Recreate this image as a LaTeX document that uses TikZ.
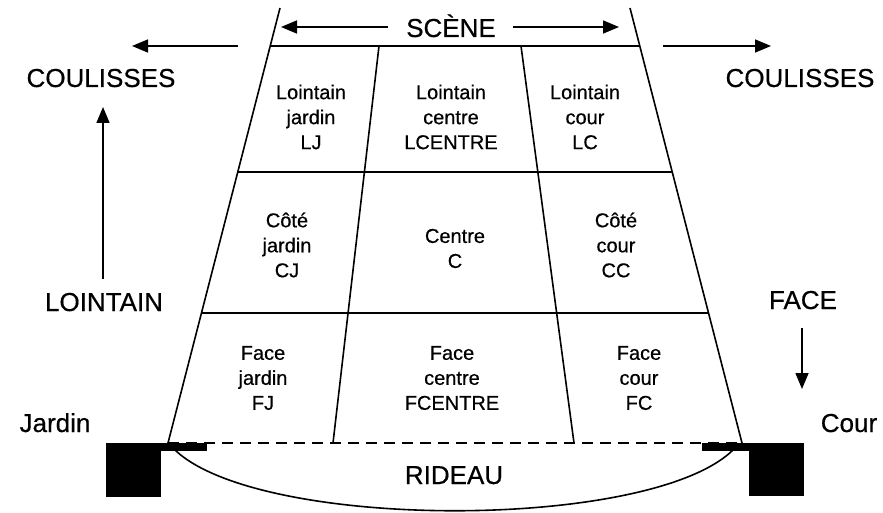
\documentclass[tikz,border=0pt]{standalone}
\usepackage{fontspec}
\setmainfont{Liberation Sans}
\newfontfamily\heavysans[FakeBold=0.5]{Liberation Sans}
\usetikzlibrary{arrows.meta,calc}

\begin{document}
\begin{tikzpicture}[x=1pt,y=-1pt,
  edge/.style={line width=1.6pt},
  arr/.style={line width=1.6pt,-{Triangle[length=16pt,width=13pt]}},
  cell/.style={align=center,font=\heavysans\fontsize{20}{25}\selectfont,inner sep=0pt},
  lbl/.style={font=\heavysans\fontsize{26}{30}\selectfont,inner sep=0pt,anchor=base},
  block/.style={fill=black,draw=none}]

\useasboundingbox (0,0) rectangle (883,513);

% outer edges of the stage
\coordinate (TL) at (280,8);
\coordinate (BL) at (168,443);
\coordinate (TR) at (630,8);
\coordinate (BR) at (742,443);
\draw[edge] (TL) -- (BL);
\draw[edge] (TR) -- (BR);

% horizontal rows
\coordinate (L1) at ($(TL)!0.08736!(BL)$);
\coordinate (R1) at ($(TR)!0.08736!(BR)$);
\coordinate (L2) at ($(TL)!0.37701!(BL)$);
\coordinate (R2) at ($(TR)!0.37701!(BR)$);
\coordinate (L3) at ($(TL)!0.70115!(BL)$);
\coordinate (R3) at ($(TR)!0.70115!(BR)$);
\draw[edge] (L1) -- (R1);
\draw[edge] (L2) -- (R2);
\draw[edge] (L3) -- (R3);
\draw[edge,dash pattern=on 11pt off 7pt] (BL) -- (BR);

% column dividers
\coordinate (D1t) at (379,46);
\coordinate (D1b) at (333,443);
\coordinate (D2t) at (521,46);
\coordinate (D2b) at (574,443);
\draw[edge] (D1t) -- (D1b);
\draw[edge] (D2t) -- (D2b);

% curtain
\coordinate (cL) at (175,450);
\coordinate (cR) at (733,450);
\draw[edge] (cL) .. controls (260,531) and (650,531) .. (cR);

% proscenium blocks
\fill[block] (106,443) rectangle (161,497);
\fill[block] (106,443) rectangle (207,451);
\fill[block] (749,443) rectangle (804,496);
\fill[block] (702,443) rectangle (804,451);

% areas of the stage
\node[cell] (lj) at (311,117) {Lointain\\jardin\\LJ};
\node[cell] (lcentre) at (451,117) {Lointain\\centre\\LCENTRE};
\node[cell] (lc) at (585,117) {Lointain\\cour\\LC};
\node[cell] (cj) at (287,245) {Côté\\jardin\\CJ};
\node[cell] (c) at (455,248.5) {Centre\\C};
\node[cell] (cc) at (616,245) {Côté\\cour\\CC};
\node[cell] (fj) at (263,378) {Face\\jardin\\FJ};
\node[cell] (fcentre) at (452,378) {Face\\centre\\FCENTRE};
\node[cell] (fc) at (639,378) {Face\\cour\\FC};

% surrounding labels
\node[lbl] (scene) at (451,37) {SCÈNE};
\node[lbl] (coulG) at (101,87) {COULISSES};
\node[lbl] (coulD) at (800,87) {COULISSES};
\node[lbl] (lointain) at (104,311) {LOINTAIN};
\node[lbl] (face) at (803,309) {FACE};
\node[lbl] (jardin) at (55,432) {Jardin};
\node[lbl] (cour) at (849,432) {Cour};
\node[lbl] (rideau) at (454,484) {RIDEAU};

% direction arrows
\coordinate (scL) at (388,27);
\coordinate (scLtip) at (281,27);
\coordinate (scR) at (513,27);
\coordinate (scRtip) at (619,27);
\draw[arr] (scL) -- (scLtip);
\draw[arr] (scR) -- (scRtip);

\coordinate (cg0) at (238,46);
\coordinate (cg1) at (132,46);
\coordinate (cd0) at (663,46);
\coordinate (cd1) at (771,46);
\draw[arr] (cg0) -- (cg1);
\draw[arr] (cd0) -- (cd1);

\coordinate (lo0) at (103,279);
\coordinate (lo1) at (103,107);
\draw[arr] (lo0) -- (lo1);

\coordinate (fa0) at (802,328);
\coordinate (fa1) at (802,389);
\draw[arr] (fa0) -- (fa1);
\end{tikzpicture}
\end{document}
